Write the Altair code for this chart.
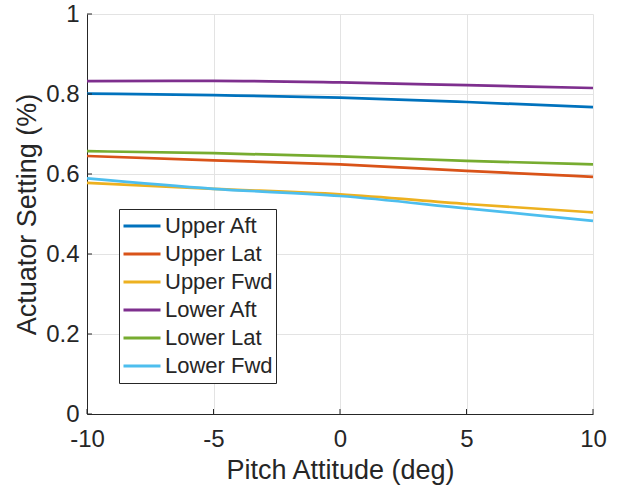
import altair as alt
import pandas as pd

# Pitch attitude sweep (deg)
pitch = [-10, -5, 0, 5, 10]

# Actuator settings for each actuator across the sweep
upper_aft = [0.801, 0.797, 0.791, 0.780, 0.767]
upper_lat = [0.645, 0.634, 0.624, 0.608, 0.593]
upper_fwd = [0.578, 0.563, 0.549, 0.525, 0.504]
lower_aft = [0.832, 0.833, 0.829, 0.822, 0.815]
lower_lat = [0.657, 0.652, 0.644, 0.633, 0.624]
lower_fwd = [0.589, 0.563, 0.545, 0.514, 0.483]

series_names = ["Upper Aft", "Upper Lat", "Upper Fwd", "Lower Aft", "Lower Lat", "Lower Fwd"]
series_values = [upper_aft, upper_lat, upper_fwd, lower_aft, lower_lat, lower_fwd]
series_colors = ["#0072BD", "#D95319", "#EDB120", "#7E2F8E", "#77AC30", "#4DBEEE"]

x_ticks = [-10, -5, 0, 5, 10]
y_ticks = [0, 0.2, 0.4, 0.6, 0.8, 1]

rows = []
for order, (name, vals) in enumerate(zip(series_names, series_values)):
    for p, v in zip(pitch, vals):
        rows.append({"pitch": p, "setting": v, "actuator": name, "order": order})
df = pd.DataFrame(rows)

FONT = "Liberation Sans"
TEXT = "#262626"
W, H = 506, 400

x_scale = alt.Scale(domain=[-10, 10], nice=False, zero=False)
y_scale = alt.Scale(domain=[0, 1], nice=False)

lines = alt.Chart(df).mark_line(strokeWidth=2.7, interpolate="monotone").encode(
    x=alt.X("pitch:Q", scale=x_scale,
            axis=alt.Axis(title="Pitch Attitude (deg)", values=x_ticks,
                          labelExpr="'' + datum.value", ticks=False, tickSize=0,
                          labelFlush=False, labelPadding=13, titlePadding=6)),
    y=alt.Y("setting:Q", scale=y_scale,
            axis=alt.Axis(title="Actuator Setting (%)", values=y_ticks,
                          labelExpr="'' + datum.value", ticks=False, tickSize=0,
                          labelFlush=False, labelPadding=8, titlePadding=4)),
    color=alt.Color("actuator:N",
                    scale=alt.Scale(domain=series_names, range=series_colors),
                    sort=series_names,
                    legend=alt.Legend(title=None, orient="none", legendX=32, legendY=195,
                                      symbolType="stroke", symbolSize=1369,
                                      symbolStrokeWidth=3, clipHeight=28, rowPadding=0,
                                      labelFontSize=22, labelFont=FONT, labelColor=TEXT,
                                      labelOffset=3, padding=3,
                                      strokeColor=TEXT, fillColor="white")),
    order="order:Q",
    detail="actuator:N",
)

# Inward tick marks on the bottom and left axes
xtick_df = pd.DataFrame({"pitch": x_ticks})
ytick_df = pd.DataFrame({"setting": y_ticks})
xticks = alt.Chart(xtick_df).mark_rule(color=TEXT, strokeWidth=1).encode(
    x=alt.X("pitch:Q", scale=x_scale), y=alt.value(H), y2=alt.value(H - 5))
yticks = alt.Chart(ytick_df).mark_rule(color=TEXT, strokeWidth=1).encode(
    y=alt.Y("setting:Q", scale=y_scale), x=alt.value(0), x2=alt.value(5))

chart = alt.layer(lines, xticks, yticks).properties(
    width=W, height=H,
    autosize=alt.AutoSizeParams(type="none"),
    padding={"left": 87, "top": 14, "right": 25, "bottom": 75},
    background="white",
).configure_view(stroke=None).configure_axis(
    labelFont=FONT, titleFont=FONT, labelFontSize=24, titleFontSize=27,
    labelColor=TEXT, titleColor=TEXT, titleFontWeight="normal",
    domainColor=TEXT, domainWidth=1, gridColor="#e3e3e3", gridWidth=1,
)

chart.save("out.html", embed_options={"renderer": "svg", "actions": False})
